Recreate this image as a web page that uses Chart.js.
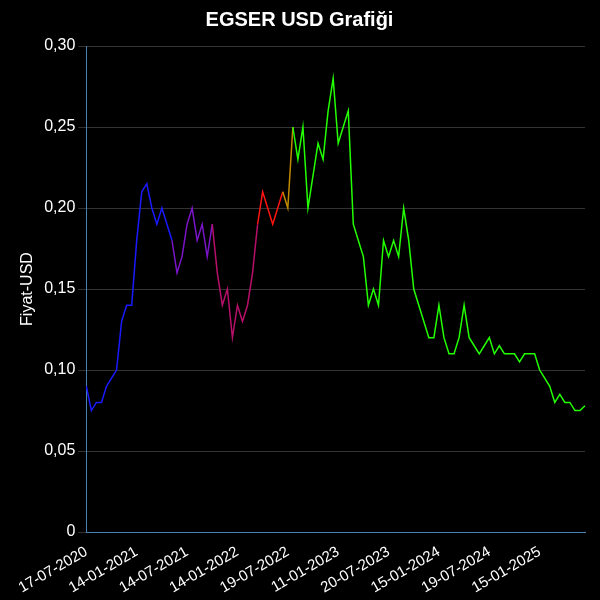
<!DOCTYPE html>
<html>
<head>
<meta charset="utf-8">
<script src="https://cdn.jsdelivr.net/npm/chart.js@4/dist/chart.umd.min.js"></script>
<style>
  body { margin: 0; background: #000; }
  #wrap { width: 600px; height: 600px; }
</style>
</head>
<body>
<div id="wrap"><canvas id="my-chart"></canvas></div>
<script>
// tick labels, one every 10 points
const tickLabels = ['17-07-2020', '14-01-2021', '14-07-2021', '14-01-2022', '19-07-2022',
  '11-01-2023', '20-07-2023', '15-01-2024', '19-07-2024', '15-01-2025'];

// price, roughly every 18 days
const prices = [
  0.090, 0.075, 0.080, 0.080, 0.090, 0.095, 0.100, 0.130, 0.140, 0.140,
  0.180, 0.210, 0.215, 0.200, 0.190, 0.200, 0.190, 0.180, 0.160, 0.170,
  0.190, 0.200, 0.180, 0.190, 0.170, 0.190, 0.160, 0.140, 0.150, 0.120,
  0.140, 0.130, 0.140, 0.160, 0.190, 0.210, 0.200, 0.190, 0.200, 0.210,
  0.200, 0.250, 0.230, 0.250, 0.200, 0.220, 0.240, 0.230, 0.260, 0.280,
  0.240, 0.250, 0.260, 0.190, 0.180, 0.170, 0.140, 0.150, 0.140, 0.180,
  0.170, 0.180, 0.170, 0.200, 0.180, 0.150, 0.140, 0.130, 0.120, 0.120,
  0.140, 0.120, 0.110, 0.110, 0.120, 0.140, 0.120, 0.115, 0.110, 0.115,
  0.120, 0.110, 0.115, 0.110, 0.110, 0.110, 0.105, 0.110, 0.110, 0.110,
  0.100, 0.095, 0.090, 0.080, 0.085, 0.080, 0.080, 0.075, 0.075, 0.078
];

// line colour per period (start index, colour)
const colorStops = [
  [0, '#1a1aff'], [17, '#7a14c8'], [25, '#b8106a'], [34, '#ff1414'],
  [39, '#c08a00'], [41, '#22ff00']
];

function colorAt(i) {
  let c = colorStops[0][1];
  colorStops.forEach(s => { if (i >= s[0]) c = s[1]; });
  return c;
}

const labels = prices.map((p, i) => (i % 10 === 0 ? tickLabels[i / 10] : ''));

const ctx = document.getElementById('my-chart').getContext('2d');
new Chart(ctx, {
  type: 'line',
  data: {
    labels,
    datasets: [{
      data: prices,
      borderWidth: 1.5,
      pointRadius: 0,
      tension: 0,
      borderColor: '#22ff00',
      segment: { borderColor: c => colorAt(c.p0DataIndex) }
    }]
  },
  options: {
    responsive: true,
    maintainAspectRatio: false,
    animation: false,
    layout: { padding: { left: 14, right: 15, bottom: 0 } },
    plugins: {
      legend: { display: false },
      title: {
        display: true,
        text: 'EGSER USD Grafiği',
        color: '#fff',
        font: { size: 20, weight: 'bold', family: 'Liberation Sans' },
        padding: { top: 8, bottom: 14 }
      }
    },
    scales: {
      x: {
        grid: { display: false },
        border: { color: '#4682b4' },
        ticks: {
          color: '#fff',
          autoSkip: false,
          maxRotation: 30,
          minRotation: 30,
          font: { size: 15, family: 'Liberation Sans' },
          callback: (v, i) => labels[i]
        }
      },
      y: {
        min: 0,
        max: 0.30,
        grid: { color: '#333' },
        border: { color: '#4682b4' },
        title: { display: true, text: 'Fiyat-USD', color: '#fff', font: { size: 16, family: 'Liberation Sans' } },
        ticks: {
          color: '#fff',
          stepSize: 0.05,
          font: { size: 16, family: 'Liberation Sans' },
          callback: v => (v === 0 ? '0' : v.toFixed(2).replace('.', ','))
        }
      }
    }
  }
});
</script>
</body>
</html>
